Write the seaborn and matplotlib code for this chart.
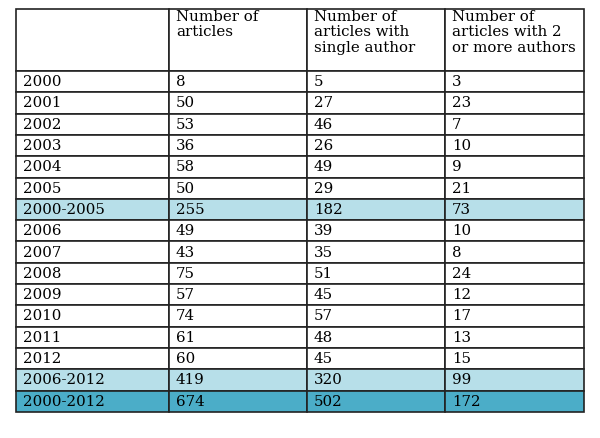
import matplotlib.pyplot as plt
from matplotlib.patches import Rectangle
import seaborn as sns

headers = ["", "Number of\narticles", "Number of\narticles with\nsingle author",
           "Number of\narticles with 2\nor more authors"]
labels = ["2000", "2001", "2002", "2003", "2004", "2005", "2000-2005",
          "2006", "2007", "2008", "2009", "2010", "2011", "2012",
          "2006-2012", "2000-2012"]
total = [8, 50, 53, 36, 58, 50, 255, 49, 43, 75, 57, 74, 61, 60, 419, 674]
single = [5, 27, 46, 26, 49, 29, 182, 39, 35, 51, 45, 57, 48, 45, 320, 502]
multi = [3, 23, 7, 10, 9, 21, 73, 10, 8, 24, 12, 17, 13, 15, 99, 172]
shade = [0, 0, 0, 0, 0, 0, 1, 0, 0, 0, 0, 0, 0, 0, 1, 2]

fills = {0: "white", 1: "#b7dfe9", 2: "#4badc8"}
col_x = [16, 169, 307, 445, 584]
top, head_h, row_h = 9, 62, 21.3

sns.set_style("white")
fig = plt.figure(figsize=(6, 4.38), dpi=100)
ax = fig.add_axes([0, 0, 1, 1])
ax.set_xlim(0, 600)
ax.set_ylim(438, 0)
ax.axis("off")
font = dict(family="DejaVu Serif", fontsize=10.8, color="black")

# header
for i, h in enumerate(headers):
    ax.add_patch(Rectangle((col_x[i], top), col_x[i + 1] - col_x[i], head_h,
                           facecolor="white", edgecolor="#222222", lw=1.2))
    ax.text(col_x[i] + 7, top + 1, h, va="top", ha="left", linespacing=1.12, **font)

# body
for r, lab in enumerate(labels):
    y = top + head_h + r * row_h
    vals = [lab, total[r], single[r], multi[r]]
    for c, v in enumerate(vals):
        ax.add_patch(Rectangle((col_x[c], y), col_x[c + 1] - col_x[c], row_h,
                               facecolor=fills[shade[r]], edgecolor="#222222", lw=1.2))
        ax.text(col_x[c] + 7, y + row_h / 2 + 0.5, str(v), va="center", ha="left", **font)

fig.savefig("out.png", dpi=100)
